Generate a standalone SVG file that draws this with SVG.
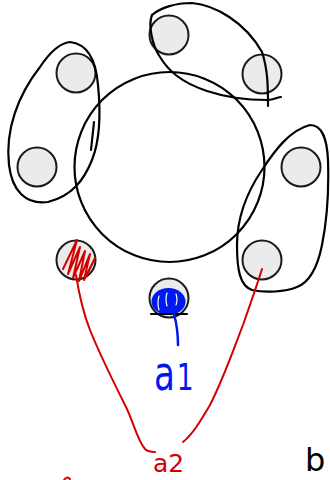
<svg xmlns="http://www.w3.org/2000/svg" width="330" height="480" viewBox="0 0 330 480">
<style>
.node{fill:#ebebeb;stroke:#1a1a1a;stroke-width:2}
.ink{fill:none;stroke:#000;stroke-width:2.2;stroke-linecap:round;stroke-linejoin:round}
.red{fill:none;stroke:#d40000;stroke-width:2;stroke-linecap:round;stroke-linejoin:round}
.blue{fill:none;stroke:#0019f0;stroke-width:2.5;stroke-linecap:round;stroke-linejoin:round}
.lbl{font-family:"DejaVu Sans","Liberation Sans",sans-serif}
</style>
<rect width="330" height="480" fill="#fff"/>
<g id="ring"><circle cx="169.5" cy="167" r="95" class="ink"/></g>
<g id="n1"><circle cx="76" cy="73" r="19.5" class="node"/></g>
<g id="n2"><circle cx="169" cy="35" r="19.5" class="node"/></g>
<g id="n3"><circle cx="262" cy="74" r="19.5" class="node"/></g>
<g id="n4"><circle cx="37" cy="167" r="19.5" class="node"/></g>
<g id="n5"><circle cx="301" cy="167" r="19.5" class="node"/></g>
<g id="n6"><circle cx="262" cy="260" r="19.5" class="node"/></g>
<g id="n7"><circle cx="76" cy="260" r="19.5" class="node"/>
<path class="red" stroke-width="2.2" d="M63,269 L77,240 L68,274 L80,247 L73,278 L85,251 L79,281 L90,254 L84,280 L95,258 L87,275"/></g>
<g id="n8"><circle cx="169" cy="298" r="19.5" class="node"/>
<ellipse cx="168.5" cy="301.5" rx="17" ry="13.5" fill="#0019f0"/>
<path d="M159,296 Q157,303 159,310 M167,293 Q165,299 167,306 M176,294 Q178,300 176,305" stroke="#fff" stroke-width="1.2" fill="none" stroke-linecap="round"/>
<path class="ink" stroke-width="1.5" d="M151,314 L187,314"/></g>
<g id="hulls">
<path class="ink" d="M70,42 C88,44 96,60 98,85 C101,115 100,140 92,160 C84,180 72,196 48,202 C25,205 12,190 9,165 C5,130 18,95 40,67 C50,52 60,43 70,42 Z"/>
<path class="ink" d="M94,122 L91,150"/>
<path class="ink" d="M152,15 C160,8 175,3 192,3 C215,5 245,22 262,52 C268,70 268,88 268,106"/>
<path class="ink" d="M152,15 C148,25 152,45 160,57 C168,70 180,82 207,91 C228,98 250,100 267,100 C274,100 278,97 281,97"/>
<path class="ink" d="M310,125 C323,125 327,140 328,160 C329,190 327,220 322,245 C318,265 310,282 297,287 C285,292 265,293 252,290 C240,286 237,270 237,245 C237,220 245,195 262,170 C275,150 290,130 310,125 Z"/>
</g>
<g id="connectors">
<path class="red" d="M76,275 C80,300 84,315 90,330 C100,355 115,385 125,405 C133,420 137,440 145,449 C148,452 152,452 155,452"/>
<path class="red" d="M262,269 C257,285 250,305 243,325 C235,345 225,375 210,405 C200,422 192,435 183,442"/>
<path class="blue" d="M174,314 C177,325 178,335 178,345"/>
<path class="red" d="M64,480 C66,477 68,477 70,479"/>
</g>
<g id="labels">
<text class="lbl" transform="translate(154,390) scale(0.95,1.35)" font-size="36" fill="#0019f0">a<tspan font-size="28" dx="2">1</tspan></text>
<text class="lbl" x="153" y="472" font-size="25" fill="#d40000">a2</text>
<text class="lbl" x="305" y="471" font-size="32" fill="#000">b</text>
</g>
</svg>
